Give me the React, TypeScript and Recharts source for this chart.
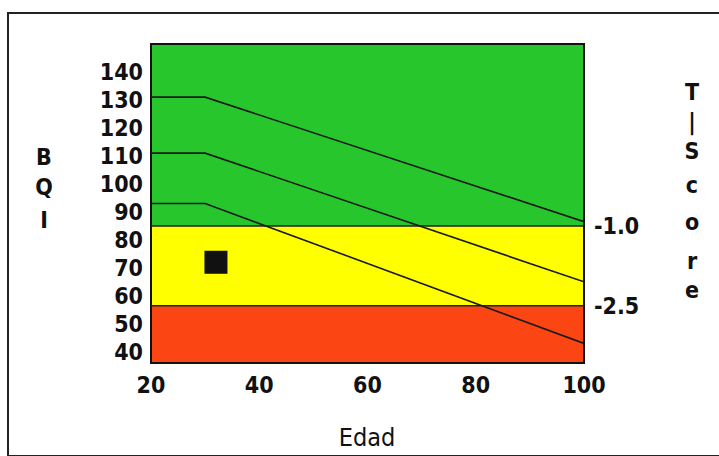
import React from "react";
import {
  ComposedChart,
  Line,
  Scatter,
  XAxis,
  YAxis,
  ReferenceArea,
  ReferenceLine,
} from "recharts";

// BQI bands (green = normal, yellow = osteopenia, red = osteoporosis)
const bandLimits = { top: 150, minus1: 85, minus25: 56.5, bottom: 36 };
const bqiTicks = [40, 50, 60, 70, 80, 90, 100, 110, 120, 130, 140];
const edadTicks = [20, 40, 60, 80, 100];
const tScoreTicks = [
  { bqi: 85, label: "-1.0" },
  { bqi: 56.5, label: "-2.5" },
];

// reference curves: flat until 30 years, then declining
const curveUpper = [
  { edad: 20, bqi: 131 },
  { edad: 30, bqi: 131 },
  { edad: 100, bqi: 86.5 },
];
const curveMiddle = [
  { edad: 20, bqi: 111 },
  { edad: 30, bqi: 111 },
  { edad: 100, bqi: 65 },
];
const curveLower = [
  { edad: 20, bqi: 93 },
  { edad: 30, bqi: 93 },
  { edad: 100, bqi: 43 },
];
const patient = [{ edad: 32, bqi: 72 }];

const tickFont = {
  fontFamily: "'DejaVu Sans Condensed', 'DejaVu Sans', sans-serif",
  fontWeight: "bold" as const,
  fontSize: 23,
  fill: "#111",
};

const labelStyle: React.CSSProperties = {
  position: "absolute",
  fontFamily: "'DejaVu Sans Condensed', 'DejaVu Sans', sans-serif",
  fontWeight: "bold",
  fontSize: 23,
  color: "#111",
  lineHeight: 1,
  transform: "translate(-50%, -50%)",
  whiteSpace: "nowrap",
};

const Square = (props: any) => {
  const { cx, cy } = props;
  return <rect x={cx - 11.5} y={cy - 11.5} width={23} height={23} fill="#111" />;
};

const sideLetters = (letters: string[], x: number, ys: number[]) =>
  letters.map((l, i) => (
    <div key={l + i} style={{ ...labelStyle, left: x, top: ys[i] }}>
      {l}
    </div>
  ));

export default function App() {
  return (
    <div
      style={{
        position: "absolute",
        left: 0,
        top: 0,
        width: 719,
        height: 456,
        overflow: "hidden",
        background: "#fff",
      }}
    >
      <div
        style={{
          position: "absolute",
          left: 7,
          top: 12,
          width: 760,
          height: 441,
          border: "2px solid #222",
        }}
      />
      <ComposedChart
        width={719}
        height={456}
        margin={{ top: 44, right: 75, bottom: 63, left: 91 }}
        style={{ position: "absolute", left: 0, top: 0 }}
      >
        <XAxis
          type="number"
          dataKey="edad"
          domain={[20, 100]}
          ticks={edadTicks}
          allowDataOverflow
          height={30}
          tickLine={false}
          tickSize={0}
          tickMargin={14}
          axisLine={false}
          tick={tickFont}
        />
        <YAxis
          yAxisId="bqi"
          type="number"
          dataKey="bqi"
          domain={[bandLimits.bottom, bandLimits.top]}
          ticks={bqiTicks}
          allowDataOverflow
          width={60}
          interval={0}
          tickLine={false}
          tickSize={0}
          tickMargin={8}
          axisLine={false}
          tick={tickFont}
        />
        <YAxis
          yAxisId="tscore"
          orientation="right"
          type="number"
          domain={[bandLimits.bottom, bandLimits.top]}
          ticks={tScoreTicks.map((t) => t.bqi)}
          tickFormatter={(v: number) =>
            tScoreTicks.find((t) => t.bqi === v)?.label ?? ""
          }
          allowDataOverflow
          width={60}
          interval={0}
          tickLine={false}
          tickSize={0}
          tickMargin={10}
          axisLine={false}
          tick={tickFont}
        />
        <ReferenceArea
          yAxisId="bqi"
          x1={20}
          x2={100}
          y1={bandLimits.minus1}
          y2={bandLimits.top}
          fill="#26c62c"
          fillOpacity={1}
          stroke="none"
        />
        <ReferenceArea
          yAxisId="bqi"
          x1={20}
          x2={100}
          y1={bandLimits.minus25}
          y2={bandLimits.minus1}
          fill="#ffff00"
          fillOpacity={1}
          stroke="none"
        />
        <ReferenceArea
          yAxisId="bqi"
          x1={20}
          x2={100}
          y1={bandLimits.bottom}
          y2={bandLimits.minus25}
          fill="#fb4512"
          fillOpacity={1}
          stroke="none"
        />
        <ReferenceLine yAxisId="bqi" y={bandLimits.minus1} stroke="#222" strokeWidth={1.5} />
        <ReferenceLine yAxisId="bqi" y={bandLimits.minus25} stroke="#222" strokeWidth={1.5} />
        <Line
          yAxisId="bqi"
          data={curveUpper}
          dataKey="bqi"
          stroke="#1a1a1a"
          strokeWidth={1.6}
          dot={false}
          isAnimationActive={false}
        />
        <Line
          yAxisId="bqi"
          data={curveMiddle}
          dataKey="bqi"
          stroke="#1a1a1a"
          strokeWidth={1.6}
          dot={false}
          isAnimationActive={false}
        />
        <Line
          yAxisId="bqi"
          data={curveLower}
          dataKey="bqi"
          stroke="#1a1a1a"
          strokeWidth={1.6}
          dot={false}
          isAnimationActive={false}
        />
        <Scatter
          yAxisId="bqi"
          data={patient}
          dataKey="bqi"
          shape={<Square />}
          isAnimationActive={false}
        />
        <ReferenceArea
          yAxisId="bqi"
          x1={20}
          x2={100}
          y1={bandLimits.bottom}
          y2={bandLimits.top}
          fill="none"
          stroke="#111"
          strokeWidth={2}
        />
      </ComposedChart>
      <div style={{ ...labelStyle, left: 367, top: 437, fontWeight: "normal", fontSize: 25 }}>
        Edad
      </div>
      {sideLetters(["B", "Q", "I"], 44, [157, 187, 220])}
      {sideLetters(["T", "|", "S", "c", "o", "r", "e"], 692, [92, 122, 151, 185, 222, 261, 290])}
    </div>
  );
}
